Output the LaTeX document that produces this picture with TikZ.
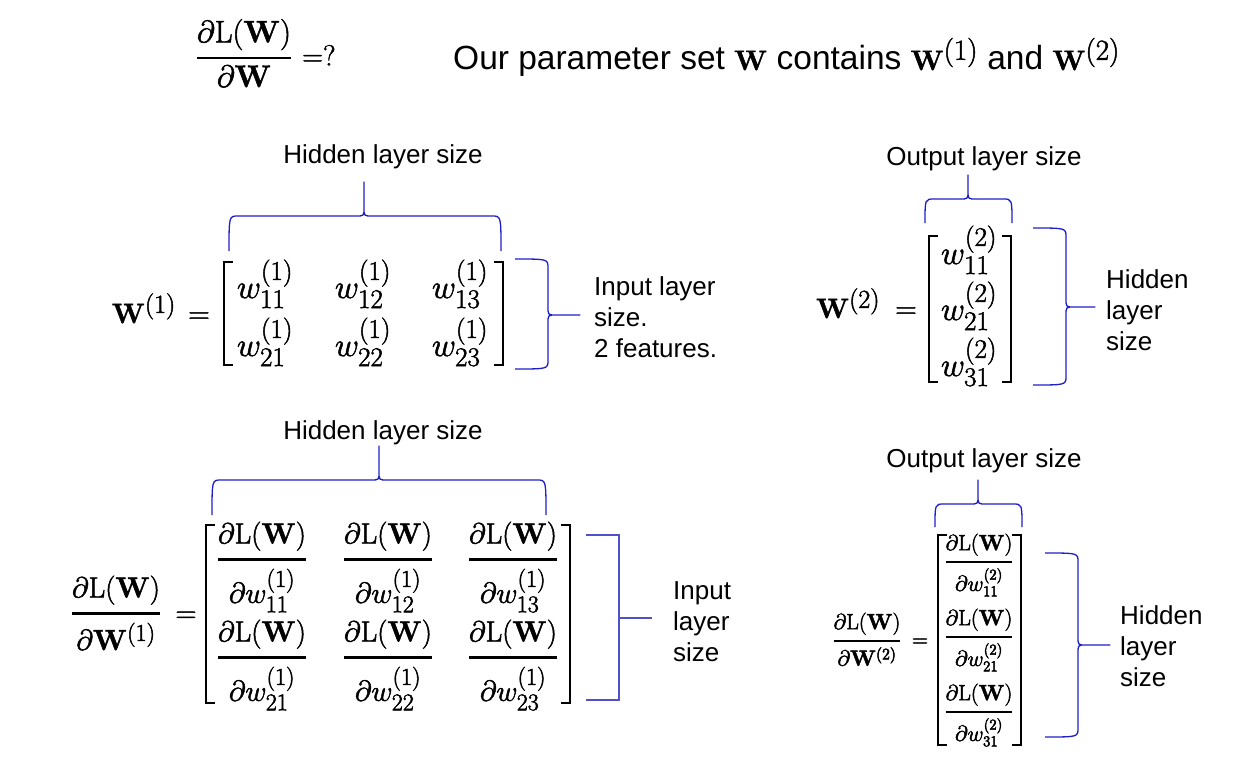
\RequirePackage{fix-cm}
\documentclass[tikz,border=0pt]{standalone}
\usepackage{amsmath}
\usepackage[no-math]{fontspec}
\setmainfont{Liberation Sans}
\definecolor{bracecol}{RGB}{30,30,200}
\definecolor{sqcol}{RGB}{80,80,200}
\newcommand{\dLW}{\partial\mathrm{L}(\mathbf{W})}
\newcommand{\gfrac}[3]{\genfrac{}{}{#1}{0}{#2}{#3}}
\newcommand{\SCR}[2]{\hbox{\fontsize{#1}{#1}\selectfont$#2$}}
\newcommand{\wA}[2]{w^{\SCR{27}{(#1)}}_{\SCR{27}{#2}}}
\newcommand{\wB}[2]{w^{\SCR{24}{(#1)}}_{\SCR{24}{#2}}}
\newcommand{\wC}[2]{w^{\SCR{15}{(#1)}}_{\SCR{15}{#2}}}
\newcommand{\heavyon}{\special{pdf:literal direct 2 Tr 0.5 w}}
\newcommand{\heavyoff}{\special{pdf:literal direct 0 Tr}}
\newcommand{\mth}[1]{{\fontsize{28}{32}\selectfont\heavyon$#1$\heavyoff}}
% horizontal brace: x1 x2 xm yb yh yt
\newcommand{\hbr}[6]{\draw[brace] (#1,#4) .. controls (#1,#5) .. (#1+9,#5) -- (#3-8,#5) .. controls (#3,#5) .. (#3,#5-8) -- (#3,#6) -- (#3,#5-8) .. controls (#3,#5) .. (#3+8,#5) -- (#2-9,#5) .. controls (#2,#5) .. (#2,#4);}
% vertical brace pointing right: x1 xv xt y1 y2 ym
\newcommand{\vbr}[6]{\draw[brace] (#1,#4) .. controls (#2,#4) .. (#2,#4+9) -- (#2,#6-8) .. controls (#2,#6) .. (#2+8,#6) -- (#3,#6) -- (#2+8,#6) .. controls (#2,#6) .. (#2,#6+8) -- (#2,#5-9) .. controls (#2,#5) .. (#1,#5);}
\newcommand{\lbr}[3]{\draw[mbr] (#1+9,#2) -- (#1,#2) -- (#1,#3) -- (#1+9,#3);}
\newcommand{\rbr}[3]{\draw[mbr] (#1-9,#2) -- (#1,#2) -- (#1,#3) -- (#1-9,#3);}
\begin{document}
\begin{tikzpicture}[x=1pt,y=-1pt,
  brace/.style={draw=bracecol,line width=1.3pt,line join=round},
  sqbr/.style={draw=sqcol,line width=1.3pt},
  mbr/.style={draw=black,line width=1.6pt},
  heavy/.style={execute at begin node=\heavyon,execute at end node=\heavyoff},
  lab/.style={font=\fontsize{26}{31}\selectfont,inner sep=0pt,align=left},
  mA/.style={heavy,font=\fontsize{33}{40}\selectfont,inner sep=0pt,anchor=base},
  mW/.style={heavy,font=\fontsize{30}{36}\selectfont,inner sep=0pt},
  mB/.style={heavy,font=\fontsize{29}{35}\selectfont,inner sep=0pt,anchor=base},
  mC/.style={heavy,font=\fontsize{22}{26}\selectfont,inner sep=0pt,anchor=base}]
\useasboundingbox (0,0) rectangle (1244,778);

% ---- top line
\node[mW,font=\fontsize{31}{37}\selectfont,anchor=base] (q) at (244,65.5) {$\gfrac{2.2pt}{\dLW}{\partial\mathbf{W}}$};
\node[mW,anchor=base west,font=\fontsize{29}{34}\selectfont] (eqq) at (302,65.5) {$=?$};
\node[inner sep=0pt,anchor=base west,font=\fontsize{33.5}{40}\selectfont] (title) at (453,70)
  {Our parameter set \mth{\mathbf{W}} contains \mth{\mathbf{W}^{\SCR{29}{(1)}}} and \mth{\mathbf{W}^{\SCR{29}{(2)}}}};

% ---- top-left: W(1)
\node[mW,font=\fontsize{28}{34}\selectfont,anchor=base east] (W1) at (176,323) {$\mathbf{W}^{\SCR{26}{(1)}}$};
\node[mW,anchor=base] (eq1) at (199,323) {$=$};
\node[mA] (a11) at (265,298) {$\wA{1}{11}$};
\node[mA] (a12) at (363,298) {$\wA{1}{12}$};
\node[mA] (a13) at (460,298) {$\wA{1}{13}$};
\node[mA] (a21) at (265,356) {$\wA{1}{21}$};
\node[mA] (a22) at (363,356) {$\wA{1}{22}$};
\node[mA] (a23) at (460,356) {$\wA{1}{23}$};
\lbr{224}{262}{365}
\rbr{503}{262}{365}
\node[lab] (hl1) at (383,157) {Hidden layer size};
\hbr{229}{501}{364}{251}{216}{182}
\vbr{515}{548}{580}{259}{369}{315}
\node[lab,anchor=west] (il1) at (594,317) {Input layer\\size.\\2 features.};

% ---- top-right: W(2)
\node[mW,font=\fontsize{28}{34}\selectfont,anchor=base west] (W2) at (816,318) {$\mathbf{W}^{\SCR{26}{(2)}}$};
\node[mW,anchor=base] (eq2) at (906,318) {$=$};
\node[mA] (b1) at (969,264) {$\wA{2}{11}$};
\node[mA] (b2) at (969,320) {$\wA{2}{21}$};
\node[mA] (b3) at (969,376) {$\wA{2}{31}$};
\lbr{929}{236}{382}
\rbr{1011}{236}{382}
\node[lab] (ol1) at (984,159) {Output layer size};
\hbr{925}{1012}{968}{223}{199}{175}
\vbr{1033}{1066}{1095}{228}{385}{307}
\node[lab,anchor=west] (hd1) at (1106,310) {Hidden\\layer\\size};

% ---- bottom-left: dL/dW(1)
\node[mB] (g1) at (116,621) {$\gfrac{2.6pt}{\dLW}{\partial\mathbf{W}^{\SCR{24}{(1)}}}$};
\node[mB] (eq3) at (186,622) {$=$};
\node[mB] (c11) at (262,567) {$\gfrac{2.6pt}{\dLW}{\partial \wB{1}{11}}$};
\node[mB] (c12) at (388,567) {$\gfrac{2.6pt}{\dLW}{\partial \wB{1}{12}}$};
\node[mB] (c13) at (513,567) {$\gfrac{2.6pt}{\dLW}{\partial \wB{1}{13}}$};
\node[mB] (c21) at (262,665) {$\gfrac{2.6pt}{\dLW}{\partial \wB{1}{21}}$};
\node[mB] (c22) at (388,665) {$\gfrac{2.6pt}{\dLW}{\partial \wB{1}{22}}$};
\node[mB] (c23) at (513,665) {$\gfrac{2.6pt}{\dLW}{\partial \wB{1}{23}}$};
\lbr{206}{525}{703}
\rbr{570}{525}{703}
\node[lab] (hl2) at (383,433) {Hidden layer size};
\hbr{212}{546}{379}{515}{480}{446}
\draw[sqbr] (586,535) -- (619,535) -- (619,700) -- (586,700);
\coordinate (sqtip) at (652,618);
\draw[sqbr] (619,618) -- (sqtip);
\node[lab,anchor=west] (il2) at (673,622) {Input\\layer\\size};

% ---- bottom-right: dL/dW(2)
\node[mC] (g2) at (867,646.5) {$\gfrac{1.8pt}{\dLW}{\partial\mathbf{W}^{\SCR{16}{(2)}}}$};
\node[mC] (eq4) at (920,646.5) {$=$};
\node[mC] (d1) at (979,567.5) {$\gfrac{1.8pt}{\dLW}{\partial \wC{2}{11}}$};
\node[mC] (d2) at (979,642.5) {$\gfrac{1.8pt}{\dLW}{\partial \wC{2}{21}}$};
\node[mC] (d3) at (979,717.5) {$\gfrac{1.8pt}{\dLW}{\partial \wC{2}{31}}$};
\lbr{938}{535}{745}
\rbr{1021}{535}{745}
\node[lab] (ol2) at (984,461) {Output layer size};
\hbr{935}{1022}{978}{527}{504}{480}
\vbr{1045}{1078}{1110}{553}{737}{645}
\node[lab,anchor=west] (hd2) at (1120,646) {Hidden\\layer\\size};
\end{tikzpicture}
\end{document}
